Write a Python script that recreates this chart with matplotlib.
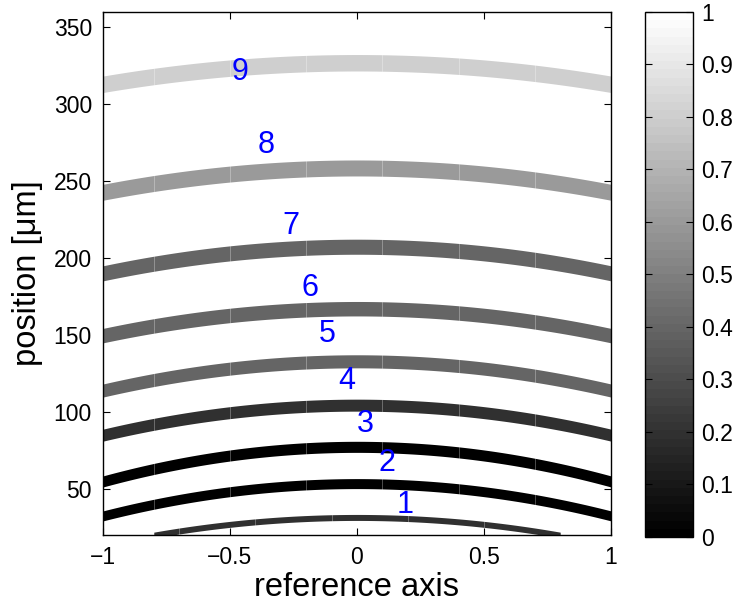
import numpy as np
import matplotlib
matplotlib.use('Agg')
import matplotlib.pyplot as plt
from matplotlib.colors import ListedColormap, Normalize
from matplotlib.cm import ScalarMappable

plt.rcParams['font.family'] = ['Liberation Sans', 'DejaVu Sans']

# arcs, from bottom (1) to top (9)
arc_labels = ['1', '2', '3', '4', '5', '6', '7', '8', '9']
arc_peak = [31.4, 53.4, 77.3, 104.4, 132.9, 167.1, 207.4, 258.6, 327.0]   # y at x = 0
arc_sag = [18.0, 21.0, 22.5, 19.5, 19.0, 17.5, 17.3, 15.8, 14.0]         # drop at x = +-1
arc_width = [3.9, 6.5, 7.2, 7.8, 8.5, 9.4, 9.8, 10.4, 10.7]
arc_extent = [0.8, 1, 1, 1, 1, 1, 1, 1, 1]
arc_value = [0.2, 0.0, 0.0, 0.2, 0.4, 0.4, 0.4, 0.6, 0.8]

# label positions
label_x = [0.189, 0.119, 0.034, -0.039, -0.117, -0.184, -0.26, -0.356, -0.461]
label_y = [39.5, 67.0, 92.0, 120.1, 150.8, 180.8, 221.0, 273.8, 320.7]

# patch edges along each arc
seg_full = [-0.8, -0.5, -0.2, 0.1, 0.4, 0.7]
seg_short = [-0.7, -0.4, -0.1, 0.2, 0.5]

cbar_ticks = [0, 0.1, 0.2, 0.3, 0.4, 0.5, 0.6, 0.7, 0.8, 0.9, 1]
x_ticks = [-1, -0.5, 0, 0.5, 1]
y_ticks = [50, 100, 150, 200, 250, 300, 350]

cmap = ListedColormap(plt.get_cmap('gray')(np.linspace(0, 1, 64)))
norm = Normalize(0, 1)

fig = plt.figure(figsize=(7.35, 6.06), dpi=100)
ax = fig.add_axes([0.1401, 0.1172, 0.6912, 0.8630])

for i in range(len(arc_peak)):
    e = arc_extent[i]
    x = np.linspace(-e, e, 300)
    yc = arc_peak[i] - arc_sag[i] * x ** 2
    h = arc_width[i] / 2.0
    color = cmap(norm(arc_value[i]))
    ax.fill_between(x, yc - h, yc + h, color=color, linewidth=0, zorder=2)

    # faint patch boundaries
    segs = seg_short if e < 1 else seg_full
    for xb in segs:
        yb = arc_peak[i] - arc_sag[i] * xb ** 2
        ax.plot([xb, xb], [yb - h, yb + h], color='white', alpha=0.35, lw=0.6, zorder=3)

    ax.text(label_x[i], label_y[i], arc_labels[i], color='blue', fontsize=22,
            ha='center', va='center', zorder=4)

ax.set_xlim(-1, 1)
ax.set_ylim(20, 360)
ax.set_xticks(x_ticks)
ax.set_xticklabels(['\u22121', '\u22120.5', '0', '0.5', '1'])
ax.set_yticks(y_ticks)
ax.tick_params(direction='in', top=True, right=True, length=5, width=0.8,
               labelsize=16.5, pad=8)
for s in ax.spines.values():
    s.set_linewidth(1.0)

ax.set_xlabel('reference axis', fontsize=23.5, labelpad=2)
ax.set_ylabel('position [\u03bcm]', fontsize=23.5, labelpad=8)

# colorbar
cax = fig.add_axes([0.8776, 0.1139, 0.0653, 0.8663])
sm = ScalarMappable(norm=norm, cmap=cmap)
cb = fig.colorbar(sm, cax=cax)
cb.set_ticks(cbar_ticks)
cb.set_ticklabels(['0', '0.1', '0.2', '0.3', '0.4', '0.5', '0.6', '0.7', '0.8', '0.9', '1'])
cax.tick_params(direction='in', left=True, right=True, length=5, width=0.8,
                labelsize=16.5, pad=6)
cb.outline.set_linewidth(1.0)

fig.savefig('out.png', dpi=100)
